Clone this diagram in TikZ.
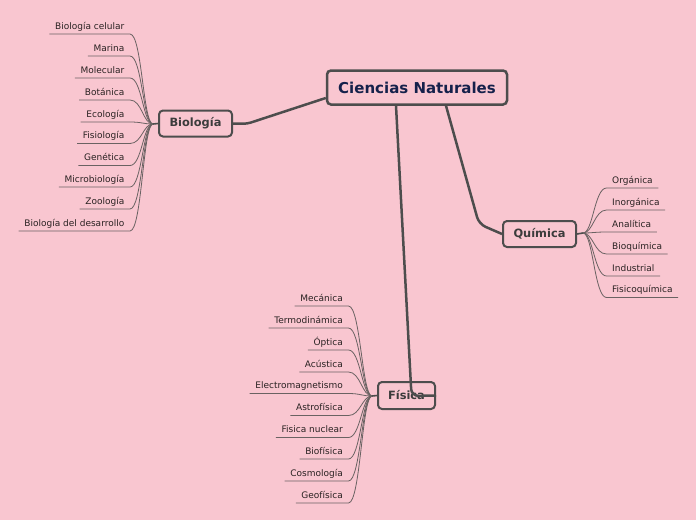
\documentclass[tikz,border=0pt]{standalone}
\usepackage{fontspec}
\setmainfont{DejaVu Sans}
\definecolor{bg}{HTML}{F9C6D0}
\definecolor{edge}{HTML}{4D4D4D}
\definecolor{leafln}{HTML}{6A6262}
\definecolor{navy}{HTML}{15214B}
\definecolor{boxtext}{HTML}{3C3C3C}
\definecolor{leaftext}{HTML}{2A2222}
\begin{document}
\begin{tikzpicture}[x=1pt,y=-1pt,
 rootbox/.style={draw=edge, line width=2.5pt, rounded corners=4pt, fill=bg, font=\bfseries\fontsize{15}{18}\selectfont, text=navy, minimum width=180pt, minimum height=34pt, inner sep=0pt},
 mainbox/.style={draw=edge, line width=2pt, rounded corners=4pt, fill=bg, font=\bfseries\fontsize{11.4}{14}\selectfont, text=boxtext, minimum height=26pt, inner sep=0pt},
 leaf/.style={font=\fontsize{9}{10}\selectfont, text=leaftext, inner xsep=5.5pt, inner ysep=2pt, text height=7pt, text depth=2.5pt},
 leafline/.style={draw=leafln, line width=0.8pt},
 hubline/.style={draw=edge, line width=1.6pt},
 mainline/.style={draw=edge, line width=2.5pt, rounded corners=7pt}]
\fill[bg] (0,0) rectangle (696,520);
\useasboundingbox (0,0) rectangle (696,520);

% main connectors (behind boxes)
\coordinate (bh) at (153,124);
\coordinate (fh) at (372,396);
\coordinate (qh) at (583,233);

\node[rootbox] (root) at (417,87.5) {Ciencias Naturales};
\node[mainbox, minimum width=73pt] (bio) at (195.5,123.5) {Biología};
\node[mainbox, minimum width=73pt] (quim) at (539.5,234) {Química};
\node[mainbox, minimum width=57pt, minimum height=27pt] (fis) at (406.5,395.5) {Física};

\draw[mainline, rounded corners=4pt] ([yshift=-10.5pt]root.west) -- (247,123.8) -- (bio.east);
\draw[mainline] ([xshift=29pt]root.south) -- (479,224) -- (quim.west);
\draw[mainline] ([xshift=-21pt]root.south) -- (411.5,396) -- (fis.east);

\draw[hubline] (bh) -- (bio.west);
\draw[hubline] (fh) -- (fis.west);
\draw[hubline] (qh) -- (quim.east);

% Biologia leaves
\foreach \n/\y/\t in {1/34/Biología celular, 2/56/Marina, 3/78/Molecular, 4/100/Botánica, 5/122/Ecología, 6/143.5/Fisiología, 7/165.5/Genética, 8/187/Microbiología, 9/209/Zoología, 10/231/Biología del desarrollo}{
  \node[leaf, anchor=south east] (b\n) at (130,\y) {\t};
  \draw[leafline] (b\n.south west) -- (b\n.south east) .. controls +(12,0) and +(-10,0) .. (bh);
}
% Fisica leaves
\foreach \n/\y/\t in {1/306/Mecánica, 2/328/Termodinámica, 3/350/Óptica, 4/372/Acústica, 5/393.5/Electromagnetismo, 6/415.5/Astrofísica, 7/437.5/Fisica nuclear, 8/459/Biofísica, 9/481/Cosmología, 10/503/Geofísica}{
  \node[leaf, anchor=south east] (f\n) at (348.5,\y) {\t};
  \draw[leafline] (f\n.south west) -- (f\n.south east) .. controls +(12,0) and +(-10,0) .. (fh);
}
% Quimica leaves
\foreach \n/\y/\t in {1/188/Orgánica, 2/210/Inorgánica, 3/232/Analítica, 4/254/Bioquímica, 5/276/Industrial, 6/297.5/Fisicoquímica}{
  \node[leaf, anchor=south west] (q\n) at (606.5,\y) {\t};
  \draw[leafline] (q\n.south east) -- (q\n.south west) .. controls +(-12,0) and +(10,0) .. (qh);
}
\end{tikzpicture}
\end{document}
